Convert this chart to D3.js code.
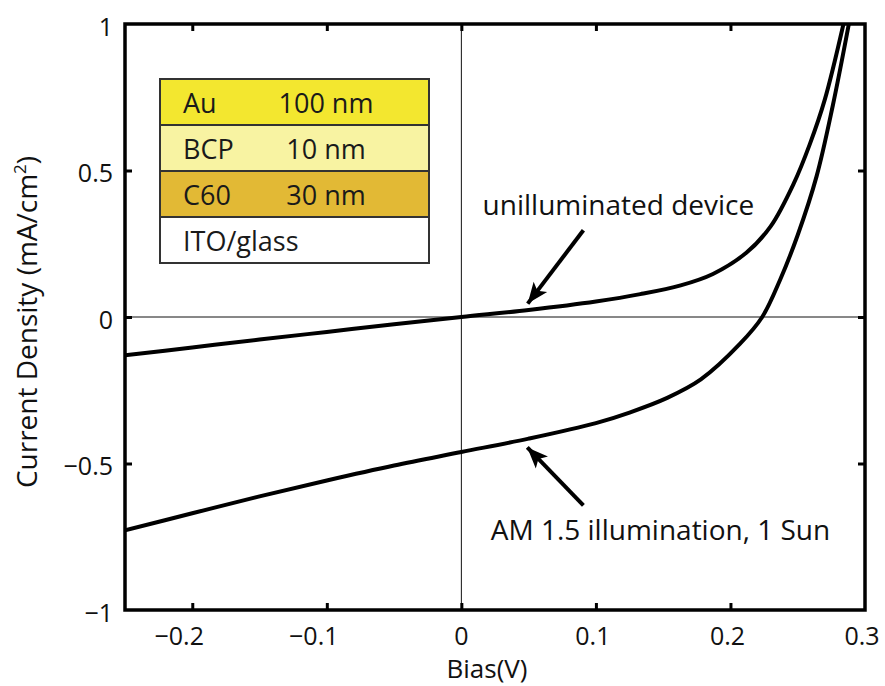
<!DOCTYPE html>
<html>
<head>
<meta charset="utf-8">
<script src="https://cdn.jsdelivr.net/npm/d3@7"></script>
<style>
  html, body { margin: 0; padding: 0; background: #fff; }
  svg { display: block; font-family: "Open Sans", "Noto Sans", sans-serif; }
</style>
</head>
<body>
<svg id="chart" width="885" height="686"></svg>
<script>
// J–V curves of an ITO / C60 / BCP / Au device
const biasDark = [-0.25, -0.2, -0.15, -0.1, -0.05, 0, 0.05, 0.1, 0.133, 0.163, 0.187, 0.212, 0.23, 0.247, 0.259, 0.27, 0.284];
const jDark    = [-0.131, -0.104, -0.077, -0.051, -0.025, 0, 0.024, 0.053, 0.078, 0.108, 0.147, 0.22, 0.31, 0.455, 0.59, 0.74, 1.0];

const biasLight = [-0.25, -0.2, -0.15, -0.1, -0.05, 0, 0.05, 0.1, 0.125, 0.153, 0.178, 0.207, 0.2236, 0.237, 0.25, 0.264, 0.276, 0.288];
const jLight    = [-0.728, -0.67, -0.612, -0.558, -0.507, -0.461, -0.415, -0.362, -0.326, -0.276, -0.213, -0.092, 0, 0.128, 0.28, 0.48, 0.72, 1.0];

const xTicks = [-0.2, -0.1, 0, 0.1, 0.2, 0.3];
const yTicks = [-1, -0.5, 0, 0.5, 1];

// device layer stack (top to bottom)
const layerNames = ["Au", "BCP", "C60", "ITO/glass"];
const layerThickness = ["100 nm", "10 nm", "30 nm", ""];
const layerColors = ["#F3E72F", "#F8F3A2", "#E2B935", "#FFFFFF"];

// curve annotations in data units
const noteText = ["unilluminated device", "AM 1.5 illumination, 1 Sun"];
const noteTextPos = [[0.1167, 0.347], [0.148, -0.762]];
const noteArrows = [[0.0907, 0.296, 0.0493, 0.0457], [0.0907, -0.643, 0.049, -0.445]]; // tail x, tail y, head x, head y

const svg = d3.select("#chart");
const m = { left: 125, right: 865, top: 24, bottom: 610 };

const x = d3.scaleLinear().domain([-0.25, 0.3]).range([m.left, m.right]);
const y = d3.scaleLinear().domain([-1, 1]).range([m.bottom, m.top]);

const defs = svg.append("defs");
defs.append("clipPath").attr("id", "plotClip")
  .append("rect").attr("x", m.left).attr("y", m.top)
  .attr("width", m.right - m.left).attr("height", m.bottom - m.top);

// arrow head
defs.append("marker")
  .attr("id", "head").attr("viewBox", "-22 -10 24 20")
  .attr("refX", 0).attr("refY", 0)
  .attr("markerWidth", 24).attr("markerHeight", 20)
  .attr("markerUnits", "userSpaceOnUse").attr("orient", "auto")
  .append("path").attr("d", "M0,0 L-21,-8.5 L-16,0 L-21,8.5 Z").attr("fill", "#000");

// zero lines
svg.append("line")
  .attr("x1", x(0)).attr("x2", x(0)).attr("y1", m.top).attr("y2", m.bottom)
  .attr("stroke", "#111").attr("stroke-width", 1);
svg.append("line")
  .attr("x1", m.left).attr("x2", m.right).attr("y1", y(0)).attr("y2", y(0))
  .attr("stroke", "#111").attr("stroke-width", 1);

// curves
const line = d3.line().x(d => x(d[0])).y(d => y(d[1])).curve(d3.curveCatmullRom.alpha(0.5));
const series = [d3.zip(biasDark, jDark), d3.zip(biasLight, jLight)];
svg.append("g").attr("clip-path", "url(#plotClip)")
  .selectAll("path").data(series).join("path")
  .attr("d", line).attr("fill", "none")
  .attr("stroke", "#000").attr("stroke-width", 4)
  .attr("stroke-linejoin", "round");

// axes: labelled bottom/left, tick-only top/right, ticks inward
const fmt = d3.format("~g");
const tickLen = 7;
const axisStyle = g => {
  g.select(".domain").remove();
  g.selectAll(".tick line").attr("stroke", "#000").attr("stroke-width", 3);
};
const innerX = xTicks.filter(v => v < 0.3);
const innerY = yTicks.filter(v => Math.abs(v) < 1);
svg.append("g").attr("transform", `translate(0,${m.bottom})`)
  .call(d3.axisBottom(x).tickValues(innerX).tickSize(-tickLen).tickFormat(""))
  .call(axisStyle);
svg.append("g").attr("transform", `translate(0,${m.top})`)
  .call(d3.axisTop(x).tickValues(innerX).tickSize(-tickLen).tickFormat(""))
  .call(axisStyle);
svg.append("g").attr("transform", `translate(${m.left},0)`)
  .call(d3.axisLeft(y).tickValues(innerY).tickSize(-tickLen).tickFormat(""))
  .call(axisStyle);
svg.append("g").attr("transform", `translate(${m.right},0)`)
  .call(d3.axisRight(y).tickValues(innerY).tickSize(-tickLen).tickFormat(""))
  .call(axisStyle);

// frame
svg.append("rect")
  .attr("x", m.left).attr("y", m.top)
  .attr("width", m.right - m.left).attr("height", m.bottom - m.top)
  .attr("fill", "none").attr("stroke", "#000").attr("stroke-width", 3.5);

// tick labels
svg.append("g").selectAll("text").data(xTicks).join("text")
  .attr("x", d => x(d)).attr("y", 645)
  .attr("dx", d => d < 0 ? -13 : (d > 0 ? -3 : 0))
  .attr("text-anchor", "middle").attr("font-size", 25).attr("fill", "#111")
  .text(d => fmt(d));
svg.append("g").selectAll("text").data(yTicks).join("text")
  .attr("x", 113).attr("y", d => y(d) + 3)
  .attr("dy", "0.35em")
  .attr("text-anchor", "end").attr("font-size", 25).attr("fill", "#111")
  .text(d => fmt(d));

// axis titles
svg.append("text")
  .attr("x", 487).attr("y", 678)
  .attr("text-anchor", "middle").attr("font-size", 26).attr("fill", "#111")
  .text("Bias(V)");
const yTitle = svg.append("text")
  .attr("transform", "translate(37,322) rotate(-90)")
  .attr("text-anchor", "middle").attr("font-size", 28).attr("fill", "#111");
yTitle.append("tspan").text("Current Density (mA/cm");
yTitle.append("tspan").attr("font-size", 17).attr("dy", -11).text("2");
yTitle.append("tspan").attr("dy", 11).text(")");

// annotations
svg.append("g").selectAll("line").data(noteArrows).join("line")
  .attr("x1", d => x(d[0])).attr("y1", d => y(d[1]))
  .attr("x2", d => x(d[2])).attr("y2", d => y(d[3]))
  .attr("stroke", "#000").attr("stroke-width", 4)
  .attr("marker-end", "url(#head)");
svg.append("g").selectAll("text").data(noteText).join("text")
  .attr("x", (d, i) => x(noteTextPos[i][0])).attr("y", (d, i) => y(noteTextPos[i][1]))
  .attr("text-anchor", "middle").attr("font-size", 28).attr("fill", "#111")
  .text(d => d);

// layer stack inset
const inset = { x: 160, y: 79, w: 269, rowH: 46 };
const rows = svg.append("g").selectAll("g").data(layerNames).join("g")
  .attr("transform", (d, i) => `translate(${inset.x},${inset.y + i * inset.rowH})`);
rows.append("rect")
  .attr("width", inset.w).attr("height", inset.rowH)
  .attr("fill", (d, i) => layerColors[i])
  .attr("stroke", "#333").attr("stroke-width", 2);
rows.append("text")
  .attr("x", 23).attr("y", 34)
  .attr("font-size", 27).attr("fill", "#1a1a1a")
  .text(d => d);
rows.append("text")
  .attr("x", 166).attr("y", 34)
  .attr("text-anchor", "middle")
  .attr("font-size", 27).attr("fill", "#1a1a1a")
  .text((d, i) => layerThickness[i]);
</script>
</body>
</html>
